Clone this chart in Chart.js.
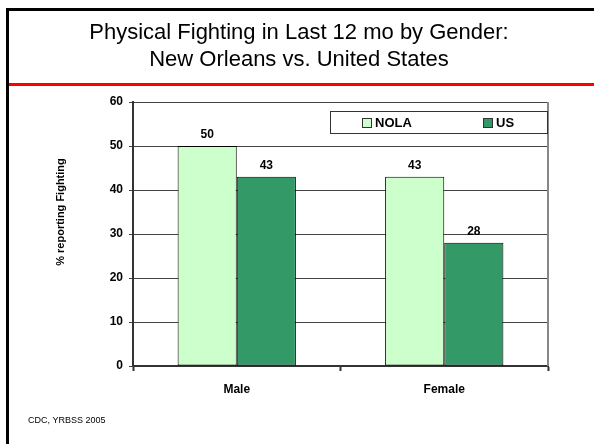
<!DOCTYPE html>
<html>
<head>
<meta charset="utf-8">
<script src="https://cdn.jsdelivr.net/npm/chart.js@4"></script>
<style>
  html, body { margin: 0; padding: 0; background: #fff; }
  canvas { display: block; }
</style>
</head>
<body>
<canvas id="grafico" width="594" height="444"></canvas>
<script>
var categorias = ["Male", "Female"]
var valoresNola = [50, 43]
var valoresUS = [43, 28]
var ticksY = [0, 10, 20, 30, 40, 50, 60]
var tituloLineas = ["Physical Fighting in Last 12 mo by Gender:", "New Orleans vs. United States"]
var tituloEjeY = "% reporting Fighting"
var fuente = "CDC, YRBSS 2005"

var FONT = "Arial, 'Liberation Sans', sans-serif"

// Marco de la diapositiva, titulo y pie
var marcoPlugin = {
  id: "marco",
  beforeDraw: function (chart) {
    var ctx = chart.ctx
    ctx.save()
    ctx.fillStyle = "#fff"
    ctx.fillRect(0, 0, chart.width, chart.height)

    ctx.strokeStyle = "#000"
    ctx.lineWidth = 3
    ctx.beginPath()
    ctx.moveTo(7.5, chart.height)
    ctx.lineTo(7.5, 9.5)
    ctx.lineTo(chart.width, 9.5)
    ctx.stroke()

    ctx.strokeStyle = "#ff0000"
    ctx.beginPath()
    ctx.moveTo(9, 84.5)
    ctx.lineTo(chart.width, 84.5)
    ctx.stroke()

    ctx.fillStyle = "#000"
    ctx.textAlign = "center"
    ctx.textBaseline = "middle"
    ctx.font = "22px " + FONT
    ctx.fillText(tituloLineas[0], 299, 33)
    ctx.fillText(tituloLineas[1], 299, 60)

    ctx.textAlign = "left"
    ctx.font = "9px " + FONT
    ctx.fillText(fuente, 28, 421)

    ctx.translate(61, 212)
    ctx.rotate(-Math.PI / 2)
    ctx.textAlign = "center"
    ctx.font = "bold 11px " + FONT
    ctx.fillText(tituloEjeY, 0, 0)
    ctx.restore()
  },
  afterDatasetsDraw: function (chart) {
    var ctx = chart.ctx
    var area = chart.chartArea
    ctx.save()

    // borde derecho del area del grafico
    ctx.strokeStyle = "#888"
    ctx.lineWidth = 2
    ctx.beginPath()
    ctx.moveTo(area.right, area.top)
    ctx.lineTo(area.right, area.bottom)
    ctx.stroke()

    // etiquetas de valores
    ctx.fillStyle = "#000"
    ctx.font = "bold 12px " + FONT
    ctx.textAlign = "center"
    ctx.textBaseline = "bottom"
    chart.data.datasets.forEach(function (ds, i) {
      chart.getDatasetMeta(i).data.forEach(function (bar, j) {
        ctx.fillText(String(ds.data[j]), bar.x, bar.y - 5)
      })
    })

    // leyenda dentro del area
    var lx = area.right - 218, ly = area.top + 9
    ctx.fillStyle = "#fff"
    ctx.fillRect(lx, ly, 218, 22)
    ctx.strokeStyle = "#333"
    ctx.lineWidth = 1
    ctx.strokeRect(lx + 0.5, ly + 0.5, 217, 22)
    var posiciones = [32, 153]
    ctx.textAlign = "left"
    ctx.textBaseline = "middle"
    ctx.font = "bold 13px " + FONT
    chart.data.datasets.forEach(function (ds, i) {
      var x = lx + posiciones[i]
      ctx.fillStyle = ds.backgroundColor
      ctx.fillRect(x, ly + 7, 10, 10)
      ctx.strokeStyle = "#333"
      ctx.strokeRect(x + 0.5, ly + 7.5, 9, 9)
      ctx.fillStyle = "#000"
      ctx.fillText(ds.label, x + 13, ly + 12)
    })
    ctx.restore()
  },
}

var ctxGrafico = document.getElementById("grafico").getContext("2d")
var chartGrafico = new Chart(ctxGrafico, {
  type: "bar",
  data: {
    labels: categorias,
    datasets: [
      {
        label: "NOLA",
        data: valoresNola,
        backgroundColor: "#ccffcc",
        borderColor: "#000",
        borderWidth: 1,
        borderSkipped: false,
        categoryPercentage: 0.57,
        barPercentage: 1.0,
      },
      {
        label: "US",
        data: valoresUS,
        backgroundColor: "#339966",
        borderColor: "#000",
        borderWidth: 1,
        borderSkipped: false,
        categoryPercentage: 0.57,
        barPercentage: 1.0,
      },
    ],
  },
  options: {
    responsive: false,
    animation: false,
    layout: {
      padding: { top: 102, right: 46, left: 0, bottom: 0 },
    },
    scales: {
      x: {
        afterFit: function (scale) { scale.height = 78 },
        grid: {
          drawOnChartArea: false,
          tickLength: 5,
          tickColor: "#333",
          tickWidth: 2,
          offset: true,
        },
        border: { color: "#333", width: 2 },
        ticks: {
          color: "#000",
          padding: 11,
          font: { family: FONT, size: 12, weight: "bold" },
        },
      },
      y: {
        min: ticksY[0],
        max: ticksY[ticksY.length - 1],
        afterFit: function (scale) { scale.width = 133 },
        afterBuildTicks: function (scale) {
          scale.ticks = ticksY.map(function (v) { return { value: v } })
        },
        grid: {
          color: "#444",
          lineWidth: 1,
          tickLength: 4,
        },
        border: { color: "#333", width: 2 },
        ticks: {
          color: "#000",
          padding: 6,
          font: { family: FONT, size: 12, weight: "bold" },
        },
      },
    },
    plugins: {
      legend: { display: false },
      title: { display: false },
      tooltip: { enabled: false },
    },
  },
  plugins: [marcoPlugin],
})
</script>
</body>
</html>
